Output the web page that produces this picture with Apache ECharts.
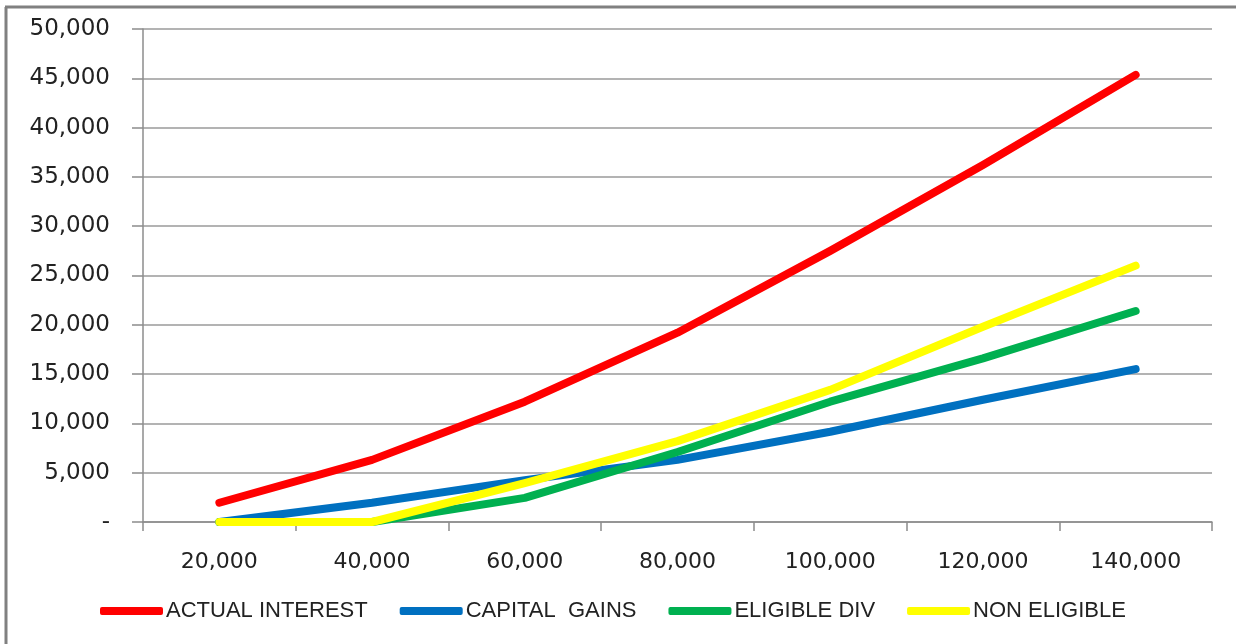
<!DOCTYPE html>
<html>
<head>
<meta charset="utf-8">
<script src="https://cdn.jsdelivr.net/npm/echarts@6/dist/echarts.min.js"></script>
<style>
html,body{margin:0;padding:0;background:#fff;}
#c{width:1236px;height:644px;}
</style>
</head>
<body>
<div id="c"></div>
<script>
const categories = ['20,000','40,000','60,000','80,000','100,000','120,000','140,000'];
const actualInterest = [1950, 6300, 12200, 19200, 27500, 36200, 45350];
const capitalGains   = [0, 1950, 4250, 6300, 9150, 12400, 15500];
const eligibleDiv    = [0, 0, 2450, 7100, 12200, 16600, 21400];
const nonEligible    = [0, 0, 3950, 8200, 13400, 19800, 26000];
const seriesNames = ['ACTUAL INTEREST', 'CAPITAL  GAINS', 'ELIGIBLE DIV', 'NON ELIGIBLE'];
const seriesColors = ['#ff0000', '#0070c0', '#00b050', '#ffff00'];
const seriesData = [actualInterest, capitalGains, eligibleDiv, nonEligible];

const chart = echarts.init(document.getElementById('c'), null, {renderer: 'canvas'});
const axisGray = '#8c8c8c';
chart.setOption({
  animation: false,
  backgroundColor: '#ffffff',
  graphic: [
    {type: 'line', shape: {x1: 6, y1: 7, x2: 6, y2: 644}, style: {stroke: '#808080', lineWidth: 3}},
    {type: 'line', shape: {x1: 5, y1: 7, x2: 1236, y2: 7}, style: {stroke: '#808080', lineWidth: 3}}
  ],
  grid: {left: 143, right: 24, top: 29, bottom: 122, containLabel: false},
  legend: {
    left: 95, top: 595,
    icon: 'roundRect',
    itemWidth: 63, itemHeight: 8, itemGap: 32,
    textStyle: {fontFamily: 'Liberation Sans', fontSize: 22, color: '#222', padding: [0,0,0,-2]},
    data: seriesNames
  },
  xAxis: {
    type: 'category',
    data: categories,
    boundaryGap: true,
    axisLine: {lineStyle: {color: axisGray, width: 1.5}},
    axisTick: {show: true, length: 9, lineStyle: {color: axisGray, width: 1.5}},
    axisLabel: {fontFamily: 'DejaVu Sans', fontSize: 22, color: '#222', margin: 29}
  },
  yAxis: {
    type: 'value',
    min: 0, max: 50000, interval: 5000,
    axisLine: {show: true, lineStyle: {color: axisGray, width: 1.5}},
    axisTick: {show: true, length: 11, lineStyle: {color: axisGray, width: 1.5}},
    splitLine: {show: true, lineStyle: {color: '#9a9a9a', width: 1.5}},
    axisLabel: {
      fontFamily: 'DejaVu Sans', fontSize: 23, color: '#222', margin: 33,
      formatter: v => v === 0 ? '-' : v.toLocaleString('en-US')
    }
  },
  series: seriesNames.map((n, i) => ({
    name: n,
    type: 'line',
    data: seriesData[i],
    symbol: 'none',
    smooth: false,
    color: seriesColors[i],
    lineStyle: {width: 8, color: seriesColors[i], cap: 'round', join: 'round'},
    z: 10 + i
  }))
});
</script>
</body>
</html>
